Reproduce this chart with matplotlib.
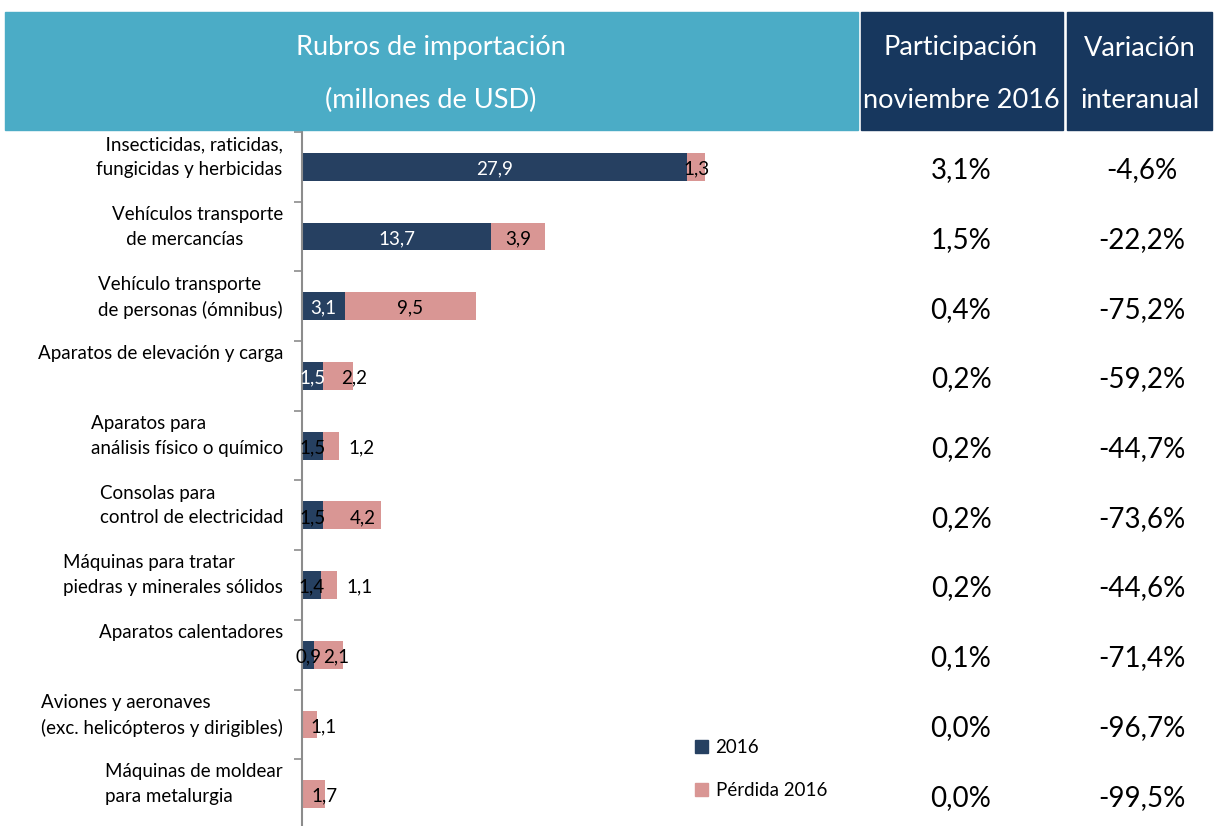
import matplotlib.pyplot as plt
from matplotlib.patches import Rectangle, Patch
from matplotlib.transforms import blended_transform_factory

plt.rcParams['font.family'] = ['Lato', 'DejaVu Sans']

categories = [
    '  Insecticidas, raticidas,\nfungicidas y herbicidas',
    'Vehículos transporte\n   de mercancías',
    'Vehículo transporte\nde personas (ómnibus)',
    'Aparatos de elevación y carga',
    'Aparatos para\nanálisis físico o químico',
    'Consolas para\ncontrol de electricidad',
    'Máquinas para tratar\npiedras y minerales sólidos',
    'Aparatos calentadores',
    'Aviones y aeronaves\n(exc. helicópteros y dirigibles)',
    'Máquinas de moldear\npara metalurgia',
]
val_2016 = [27.9, 13.7, 3.1, 1.5, 1.5, 1.5, 1.4, 0.9, 0.0, 0.0]
loss_2016 = [1.3, 3.9, 9.5, 2.2, 1.2, 4.2, 1.1, 2.1, 1.1, 1.7]
participacion = ['3,1%', '1,5%', '0,4%', '0,2%', '0,2%', '0,2%', '0,2%', '0,1%', '0,0%', '0,0%']
variacion = ['-4,6%', '-22,2%', '-75,2%', '-59,2%', '-44,7%', '-73,6%', '-44,6%', '-71,4%', '-96,7%', '-99,5%']

W, H = 1220, 826
navy = '#264061'
pink = '#D99694'
light_blue = '#4BACC6'
dark_blue = '#17375E'

fig = plt.figure(figsize=(W / 100, H / 100), dpi=100)

def fx(px):
    return px / W

def fy(py):
    return 1 - py / H

# header boxes
for x0, x1, col in [(5, 858, light_blue), (861, 1063, dark_blue), (1067, 1212, dark_blue)]:
    fig.patches.append(Rectangle((fx(x0), fy(130)), fx(x1) - fx(x0), fy(12) - fy(130),
                                 transform=fig.transFigure, color=col, zorder=0))
hdr = dict(color='white', fontsize=19.5, ha='center', va='center')
fig.text(fx(431), fy(48), 'Rubros de importación', **hdr)
fig.text(fx(431), fy(100), '(millones de USD)', **hdr)
fig.text(fx(961), fy(48), 'Participación', **hdr)
fig.text(fx(961), fy(100), 'noviembre 2016', **hdr)
fig.text(fx(1140), fy(48), 'Variación', **hdr)
fig.text(fx(1140), fy(100), 'interanual', **hdr)

ax = fig.add_axes([fx(302), fy(829), fx(860) - fx(302), fy(132) - fy(829)])
n = len(categories)
ypos = list(range(n))
b1 = ax.barh(ypos, val_2016, height=0.4, color=navy, label='2016')
b2 = ax.barh(ypos, loss_2016, left=val_2016, height=0.4, color=pink, label='Pérdida 2016')

ax.set_xlim(0, 40.4)
ax.set_ylim(n - 0.5, -0.5)
for s in ['top', 'right', 'bottom']:
    ax.spines[s].set_visible(False)
ax.spines['left'].set_color('#8c8c8c')
ax.spines['left'].set_linewidth(1.5)
ax.set_xticks([])
ax.set_yticks([i + 0.5 for i in range(-1, n)])
ax.set_yticklabels([])
ax.tick_params(axis='y', length=6, color='#8c8c8c', width=1.2)

# value labels
loss_nudge = [0, 0, 0, 12, 22, 8, 22, 5, 10, 8]
for i in range(n):
    v, l = val_2016[i], loss_2016[i]
    if v > 0:
        c = 'white' if i < 4 else 'black'
        ax.text(v / 2, i + 0.03, f'{v:.1f}'.replace('.', ','), color=c,
                fontsize=13.5, ha='center', va='center')
    ax.annotate(f'{l:.1f}'.replace('.', ','), (v + l / 2, i + 0.03),
                xytext=(loss_nudge[i], 0), textcoords='offset points',
                fontsize=13.5, ha='center', va='center', color='black')

# category labels (left) and table values (right)
tr = blended_transform_factory(fig.transFigure, ax.transData)
for i, cat in enumerate(categories):
    ax.text(fx(283), i - 0.44, cat, transform=tr, ha='right', va='top',
            multialignment='left', fontsize=13.5, linespacing=1.55, clip_on=False)
    ax.text(fx(961), i + 0.05, participacion[i], transform=tr, ha='center',
            va='center', fontsize=20, clip_on=False)
    ax.text(fx(1142), i + 0.05, variacion[i], transform=tr, ha='center',
            va='center', fontsize=20, clip_on=False)

handles = [Patch(color=navy), Patch(color=pink)]
fig.legend(handles, ['2016', 'Pérdida 2016'], loc='upper left',
           bbox_to_anchor=(fx(678), fy(722)), frameon=False, fontsize=13.5,
           handlelength=0.7, handleheight=0.7, handletextpad=0.4, labelspacing=1.4)

fig.savefig('out.png', dpi=100)
